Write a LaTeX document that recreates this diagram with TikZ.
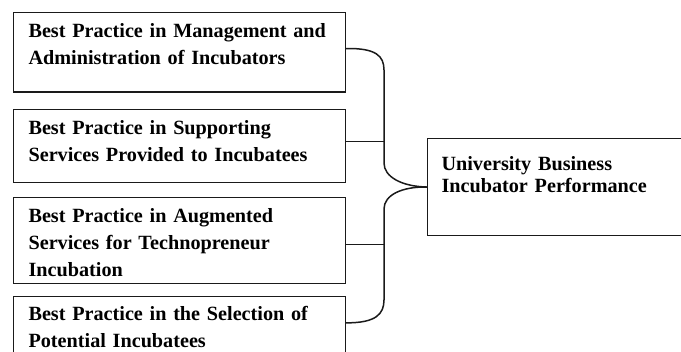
\documentclass[tikz,border=0pt]{standalone}
\usepackage{fontspec}
\setmainfont{Liberation Serif}
\usetikzlibrary{positioning}
\definecolor{linec}{HTML}{1A1A1A}

\tikzset{
  practice/.style={draw=linec, line width=1.1pt, anchor=north west, align=left,
    text width=302pt, inner xsep=15pt, inner ysep=11pt, text height=14pt,
    font=\bfseries\fontsize{20.2}{27}\selectfont},
  outcome/.style={draw=linec, line width=1.1pt, anchor=north west, align=left,
    text width=254pt, inner xsep=14pt, inner ysep=18pt, text height=14pt, text depth=47pt,
    font=\bfseries\fontsize{20.2}{22}\selectfont},
  brace/.style={draw=linec, line width=1.5pt},
  link/.style={draw=linec, line width=0.9pt}
}

\begin{document}
\begin{tikzpicture}[x=1pt, y=1pt]
    % page 681 x 352, boxes run past the lower and right edges
    \useasboundingbox (0,0) rectangle (681,352);
    \clip (0,0) rectangle (681,352);

    \node[practice, text depth=43.5pt] (mgmt) at (13,340)
      {Best Practice in Management and\\Administration of Incubators};
    \node[practice, text depth=37pt, below=16.5pt of mgmt] (support)
      {Best Practice in Supporting\\Services Provided to Incubatees};
    \node[practice, text depth=50pt, below=14pt of support] (augment)
      {Best Practice in Augmented\\Services for Technopreneur\\Incubation};
    \node[practice, text depth=44pt, inner ysep=10pt, below=12pt of augment] (select)
      {Best Practice in the Selection of\\Potential Incubatees};
    \node[outcome] (perf) at (427,214)
      {University Business\\Incubator Performance};

    % curly bracket gathering the four practices
    \draw[brace] ([yshift=3.75pt]mgmt.east) .. controls (376,304) and (384,296) .. (384,282)
      -- (384,189) .. controls (384,175) and (402,165.5) .. (perf.west);
    \draw[brace] ([yshift=13pt]select.east) .. controls (376,29) and (384,38) .. (384,52)
      -- (384,143) .. controls (384,157) and (402,165.5) .. (perf.west);
    \draw[link] ([yshift=4.5pt]support.east) -- ++(39,0);
    \draw[link] ([yshift=-4pt]augment.east) -- ++(39,0);
\end{tikzpicture}
\end{document}
